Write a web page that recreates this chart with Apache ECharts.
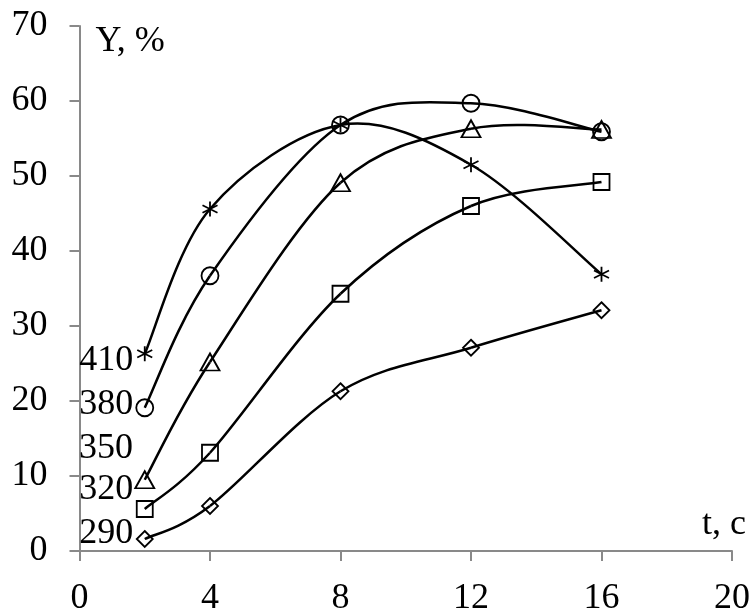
<!DOCTYPE html>
<html>
<head>
<meta charset="utf-8">
<script src="https://cdn.jsdelivr.net/npm/echarts@6/dist/echarts.min.js"></script>
<style>html,body{margin:0;padding:0;background:#fff}#c{width:755px;height:609px}</style>
</head>
<body>
<div id="c"></div>
<script>
const times = [2, 4, 8, 12, 16];
const seriesNames = ['290', '320', '350', '380', '410'];
const y290 = [1.6, 6.0, 21.3, 27.1, 32.1];
const y320 = [5.6, 13.1, 34.3, 46.0, 49.2];
const y350 = [9.5, 25.2, 49.1, 56.3, 56.2];
const y380 = [19.1, 36.7, 56.8, 59.7, 55.9];
const y410 = [26.3, 45.6, 56.8, 51.5, 36.9];
const xTicks = [0, 4, 8, 12, 16, 20];
const yTicks = [0, 10, 20, 30, 40, 50, 60, 70];

const FONT = 'Liberation Serif';
const FS = 36;
const star = 'path://M7,0L7,14M1,3.5L13,10.5M1,10.5L13,3.5';

const styles = [
  {vals: y290, symbol: 'diamond', size: 16, dy: -5},
  {vals: y320, symbol: 'rect', size: 16, dy: -19},
  {vals: y350, symbol: 'triangle', size: [19, 17], dy: -31},
  {vals: y380, symbol: 'circle', size: 17, dy: -3},
  {vals: y410, symbol: star, size: 15, dy: 7}
];

// Smooth (Catmull-Rom style, like spreadsheet smoothed lines) drawn through the axis scales
function curveSeries(vals) {
  const pts = times.map((t, k) => [t, vals[k]]);
  return {
    type: 'custom',
    silent: true,
    z: 2,
    data: pts,
    renderItem: function (params, api) {
      if (params.dataIndex !== 0) return {type: 'group', children: []};
      const P = pts.map(p => api.coord(p));
      const children = [];
      for (let i = 0; i < P.length - 1; i++) {
        const p0 = P[Math.max(0, i - 1)], p1 = P[i], p2 = P[i + 1], p3 = P[Math.min(P.length - 1, i + 2)];
        children.push({
          type: 'bezierCurve',
          shape: {
            x1: p1[0], y1: p1[1], x2: p2[0], y2: p2[1],
            cpx1: p1[0] + (p2[0] - p0[0]) / 6, cpy1: p1[1] + (p2[1] - p0[1]) / 6,
            cpx2: p2[0] - (p3[0] - p1[0]) / 6, cpy2: p2[1] - (p3[1] - p1[1]) / 6
          },
          style: {stroke: '#000', lineWidth: 2.5, fill: null}
        });
      }
      return {type: 'group', children: children};
    }
  };
}

const series = [];
styles.forEach((s) => series.push(curveSeries(s.vals)));
styles.forEach((s, i) => {
  const w = Array.isArray(s.size) ? s.size[0] : s.size;
  series.push({
    name: seriesNames[i],
    type: 'scatter',
    symbol: s.symbol,
    symbolSize: s.size,
    itemStyle: {color: 'rgba(255,255,255,0)', borderColor: '#000', borderWidth: 1.8, opacity: 1},
    emphasis: {disabled: true},
    z: 3,
    data: times.map((t, k) => {
      const d = {value: [t, s.vals[k]]};
      if (k === 0) {
        d.label = {
          show: true,
          formatter: seriesNames[i],
          position: 'left',
          distance: Math.max(0, (144.7 - w / 2) - 134),
          offset: [0, s.dy],
          color: '#000',
          fontFamily: FONT,
          fontSize: FS
        };
      }
      return d;
    })
  });
});

const chart = echarts.init(document.getElementById('c'), null, {renderer: 'canvas'});
chart.setOption({
  animation: false,
  backgroundColor: '#fff',
  grid: {left: 79.5, right: 23, top: 26, bottom: 58, containLabel: false, outerBoundsMode: 'none'},
  xAxis: {
    type: 'value', min: xTicks[0], max: xTicks[xTicks.length - 1], interval: 4,
    name: 't, c', nameLocation: 'end', nameGap: 14,
    nameTextStyle: {color: '#000', fontFamily: FONT, fontSize: FS, align: 'right', verticalAlign: 'bottom', padding: [0, 0, 8, 0]},
    axisLine: {show: true, lineStyle: {color: '#898989', width: 2}},
    axisTick: {show: true, length: 10, lineStyle: {color: '#898989', width: 2}},
    axisLabel: {color: '#000', fontFamily: FONT, fontSize: FS, margin: 30},
    splitLine: {show: false}
  },
  yAxis: {
    type: 'value', min: yTicks[0], max: yTicks[yTicks.length - 1], interval: 10,
    name: 'Y, %', nameLocation: 'end', nameGap: -16,
    nameTextStyle: {color: '#000', fontFamily: FONT, fontSize: FS, align: 'left', verticalAlign: 'middle', padding: [0, 0, 0, 16]},
    axisLine: {show: true, lineStyle: {color: '#898989', width: 2}},
    axisTick: {show: true, length: 10, lineStyle: {color: '#898989', width: 2}},
    axisLabel: {color: '#000', fontFamily: FONT, fontSize: FS, margin: 32, padding: [14, 0, 0, 0]},
    splitLine: {show: false}
  },
  series: series
});
</script>
</body>
</html>
